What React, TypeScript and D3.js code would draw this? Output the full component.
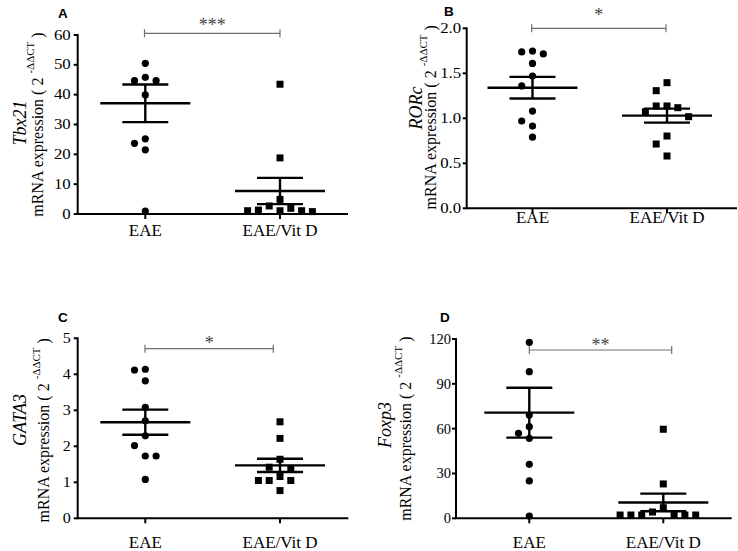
import React from 'react';
import * as d3 from 'd3';

const categories = ['EAE', 'EAE/Vit D'];

const tbx21Eae = [50.5, 45.8, 44.7, 44.7, 39.9, 25.2, 23.7, 21.5, 1.0];
const tbx21VitD = [43.5, 18.8, 4.9, 2.7, 1.3, 1.1, 0.8, 1.1, 1.1, 1.9];
const tbx21Mean = [37.1, 7.7];
const tbx21Sem = [6.3, 4.4];
const tbx21Ticks = [0, 10, 20, 30, 40, 50, 60];

const rorcEae = [1.748, 1.737, 1.715, 1.61, 1.47, 1.36, 1.08, 0.97, 0.914, 0.79];
const rorcVitD = [1.396, 1.307, 1.137, 1.137, 1.118, 1.073, 1.018, 0.803, 0.714, 0.581];
const rorcMean = [1.34, 1.03];
const rorcSem = [0.12, 0.078];
const rorcTicks = [0, 0.5, 1.0, 1.5, 2.0];

const gata3Eae = [4.14, 4.12, 3.82, 3.08, 2.71, 2.29, 2.02, 1.73, 1.73, 1.08];
const gata3VitD = [2.68, 2.22, 1.64, 1.42, 1.36, 1.16, 1.05, 1.05, 1.05, 0.77];
const gata3Mean = [2.67, 1.47];
const gata3Sem = [0.35, 0.185];
const gata3Ticks = [0, 1, 2, 3, 4, 5];

const foxp3Eae = [117.8, 98.1, 69.1, 61.3, 56.9, 53.5, 36.1, 25.0, 1.5];
const foxp3VitD = [59.6, 23.0, 7.1, 4.2, 2.2, 2.2, 2.2, 2.2, 2.2, 2.2];
const foxp3Mean = [70.7, 10.6];
const foxp3Sem = [16.7, 5.9];
const foxp3Ticks = [0, 30, 60, 90, 120];

const genes = ['Tbx21', 'RORc', 'GATA3', 'Foxp3'];
const panelLetters = ['A', 'B', 'C', 'D'];
const stars = ['***', '*', '*', '**'];

const serif = "'Times New Roman', 'Liberation Serif', serif";
const sans = "Arial, 'Liberation Sans', sans-serif";

// simple swarm: highest values first, each point takes the nearest free slot
function swarm(values: number[], y: (v: number) => number, gap: number) {
  const order = values.map((v, i) => i).sort((a, b) => values[b] - values[a]);
  const placed: { slot: number; py: number }[] = [];
  const slots = new Array(values.length).fill(0);
  order.forEach((i) => {
    const py = y(values[i]);
    for (let k = 0; k < 40; k++) {
      const slot = k === 0 ? 0 : k % 2 === 1 ? -(k + 1) / 2 : k / 2;
      const hit = placed.some((p) => p.slot === slot && Math.abs(p.py - py) < gap);
      if (!hit) {
        placed.push({ slot, py });
        slots[i] = slot;
        break;
      }
    }
  });
  return slots;
}

type Layout = {
  x0: number; x1: number; top: number; bottom: number;
  cats: [number, number];
  tickFont: number; tickStretch: number; tickGap: number;
  catBase: number;
  geneX: number; labelX: number; labelCy: number; geneCy: number;
  letterX: number; letterY: number;
  bracketY: number; bracketX: [number, number]; starY: number;
  fmt: (v: number) => string;
};

function Panel(props: {
  groups: number[][]; mean: number[]; sem: number[]; ticks: number[];
  gene: string; letter: string; star: string; L: Layout;
}) {
  const { groups, mean, sem, ticks, gene, letter, star, L } = props;
  const yMax = ticks[ticks.length - 1];
  const y = d3.scaleLinear().domain([0, yMax]).range([L.bottom, L.top]);
  const x = d3.scalePoint<string>().domain(categories).range(L.cats);
  const step = 10.8;
  const r = 3.6;
  const sq = 7;
  const circle = d3.symbol().type(d3.symbolCircle).size(Math.PI * r * r);

  return (
    <g>
      <text x={L.letterX} y={L.letterY} fontFamily={sans} fontWeight="bold" fontSize={13.5}>
        {letter}
      </text>

      {/* y axis */}
      <line x1={L.x0} x2={L.x0} y1={L.top - 1} y2={L.bottom} stroke="#000" strokeWidth={2} />
      {ticks.map((t) => {
        const s = L.fmt(t);
        const natural = s.split('').reduce((w, c) => w + (c === '.' ? 0.25 : 0.5), 0) * L.tickFont;
        return (
          <g key={t}>
            <line x1={L.x0 - 4} x2={L.x0} y1={y(t)} y2={y(t)} stroke="#000" strokeWidth={2} />
            <text
              x={L.x0 - L.tickGap}
              y={y(t)}
              textAnchor="end"
              dominantBaseline="central"
              fontFamily={serif}
              fontSize={L.tickFont}
              textLength={natural * L.tickStretch}
              lengthAdjust="spacingAndGlyphs"
            >
              {s}
            </text>
          </g>
        );
      })}

      {/* x axis */}
      <line x1={L.x0 - 1} x2={L.x1} y1={L.bottom} y2={L.bottom} stroke="#000" strokeWidth={2} />
      {categories.map((c) => (
        <g key={c}>
          <line x1={x(c)} x2={x(c)} y1={L.bottom} y2={L.bottom + 5} stroke="#000" strokeWidth={2} />
          <text x={x(c)} y={L.catBase} textAnchor="middle" fontFamily={serif} fontSize={17}>
            {c}
          </text>
        </g>
      ))}

      {/* y labels */}
      <text
        transform={`translate(${L.geneX},${L.geneCy}) rotate(-90)`}
        textAnchor="middle"
        dominantBaseline="central"
        fontFamily={serif}
        fontStyle="italic"
        fontSize={18}
      >
        {gene}
      </text>
      <text
        transform={`translate(${L.labelX},${(L.top + L.bottom) / 2 + L.labelCy}) rotate(-90)`}
        textAnchor="middle"
        dominantBaseline="central"
        fontFamily={serif}
        fontSize={16}
      >
        <tspan>mRNA expression ( 2 </tspan>
        <tspan fontSize={11} dy={-7}>-ΔΔCT</tspan>
        <tspan dy={7}> )</tspan>
      </text>

      {/* points */}
      {groups.map((vals, gi) => {
        const cx = x(categories[gi]) as number;
        const slots = swarm(vals, y, 11);
        return vals.map((v, i) =>
          gi === 0 ? (
            <path key={`${gi}-${i}`} d={circle() as string} transform={`translate(${cx + slots[i] * step},${y(v)})`} fill="#000" />
          ) : (
            <rect key={`${gi}-${i}`} x={cx + slots[i] * step - sq / 2} y={y(v) - sq / 2} width={sq} height={sq} fill="#000" />
          )
        );
      })}

      {/* mean +/- SEM */}
      {mean.map((m, gi) => {
        const cx = x(categories[gi]) as number;
        const hi = y(m + sem[gi]);
        const lo = y(m - sem[gi]);
        return (
          <g key={gi} stroke="#000" strokeWidth={2.4}>
            <line x1={cx - 45} x2={cx + 45} y1={y(m)} y2={y(m)} />
            <line x1={cx - 23} x2={cx + 23} y1={hi} y2={hi} />
            <line x1={cx - 23} x2={cx + 23} y1={lo} y2={lo} />
            <line x1={cx} x2={cx} y1={hi} y2={lo} />
          </g>
        );
      })}

      {/* significance */}
      <g stroke="#6e6e6e" strokeWidth={1.2}>
        <line x1={L.bracketX[0]} x2={L.bracketX[1]} y1={L.bracketY} y2={L.bracketY} />
        <line x1={L.bracketX[0]} x2={L.bracketX[0]} y1={L.bracketY - 4} y2={L.bracketY + 4} />
        <line x1={L.bracketX[1]} x2={L.bracketX[1]} y1={L.bracketY - 4} y2={L.bracketY + 4} />
      </g>
      <text
        x={(L.bracketX[0] + L.bracketX[1]) / 2}
        y={L.starY + 9}
        textAnchor="middle"
        fontFamily={serif}
        fontSize={18}
        fill="#444"
      >
        {star}
      </text>
    </g>
  );
}

const intFmt = (v: number) => d3.format('d')(v);
const decFmt = (v: number) => d3.format('.1f')(v);

export default function App() {
  const layouts: Layout[] = [
    {
      x0: 77.7, x1: 348, top: 35, bottom: 214, cats: [145.3, 280],
      tickFont: 14, tickStretch: 1.2, tickGap: 7, catBase: 236,
      geneX: 20, labelX: 37, labelCy: 0, geneCy: 123,
      letterX: 58, letterY: 17.5, bracketY: 33.3, bracketX: [144.5, 280], starY: 21.7, fmt: intFmt,
    },
    {
      x0: 466.7, x1: 737, top: 28.3, bottom: 208.3, cats: [532.5, 667],
      tickFont: 14, tickStretch: 1.2, tickGap: 5.5, catBase: 222.5,
      geneX: 416, labelX: 430, labelCy: -1, geneCy: 108,
      letterX: 444, letterY: 16, bracketY: 28.3, bracketX: [531.7, 666], starY: 11.7, fmt: decFmt,
    },
    {
      x0: 77.7, x1: 348.3, top: 338.3, bottom: 518.3, cats: [145.3, 280],
      tickFont: 14, tickStretch: 1.15, tickGap: 7, catBase: 547.5,
      geneX: 20, labelX: 43, labelCy: 2, geneCy: 420,
      letterX: 58, letterY: 321.7, bracketY: 348.7, bracketX: [145, 273.3], starY: 340, fmt: intFmt,
    },
    {
      x0: 456, x1: 731.7, top: 339, bottom: 518.3, cats: [529.3, 663.3],
      tickFont: 14.5, tickStretch: 1.0, tickGap: 5, catBase: 547.5,
      geneX: 385, labelX: 405, labelCy: 0, geneCy: 425,
      letterX: 440, letterY: 321.7, bracketY: 350, bracketX: [529.3, 671.7], starY: 341.7, fmt: intFmt,
    },
  ];
  const groups = [
    [tbx21Eae, tbx21VitD],
    [rorcEae, rorcVitD],
    [gata3Eae, gata3VitD],
    [foxp3Eae, foxp3VitD],
  ];
  const means = [tbx21Mean, rorcMean, gata3Mean, foxp3Mean];
  const sems = [tbx21Sem, rorcSem, gata3Sem, foxp3Sem];
  const ticks = [tbx21Ticks, rorcTicks, gata3Ticks, foxp3Ticks];

  return (
    <svg
      width={738}
      height={551}
      style={{ position: 'absolute', left: 0, top: 0, background: '#fff' }}
    >
      {layouts.map((L, i) => (
        <Panel
          key={i}
          groups={groups[i]}
          mean={means[i]}
          sem={sems[i]}
          ticks={ticks[i]}
          gene={genes[i]}
          letter={panelLetters[i]}
          star={stars[i]}
          L={L}
        />
      ))}
    </svg>
  );
}
